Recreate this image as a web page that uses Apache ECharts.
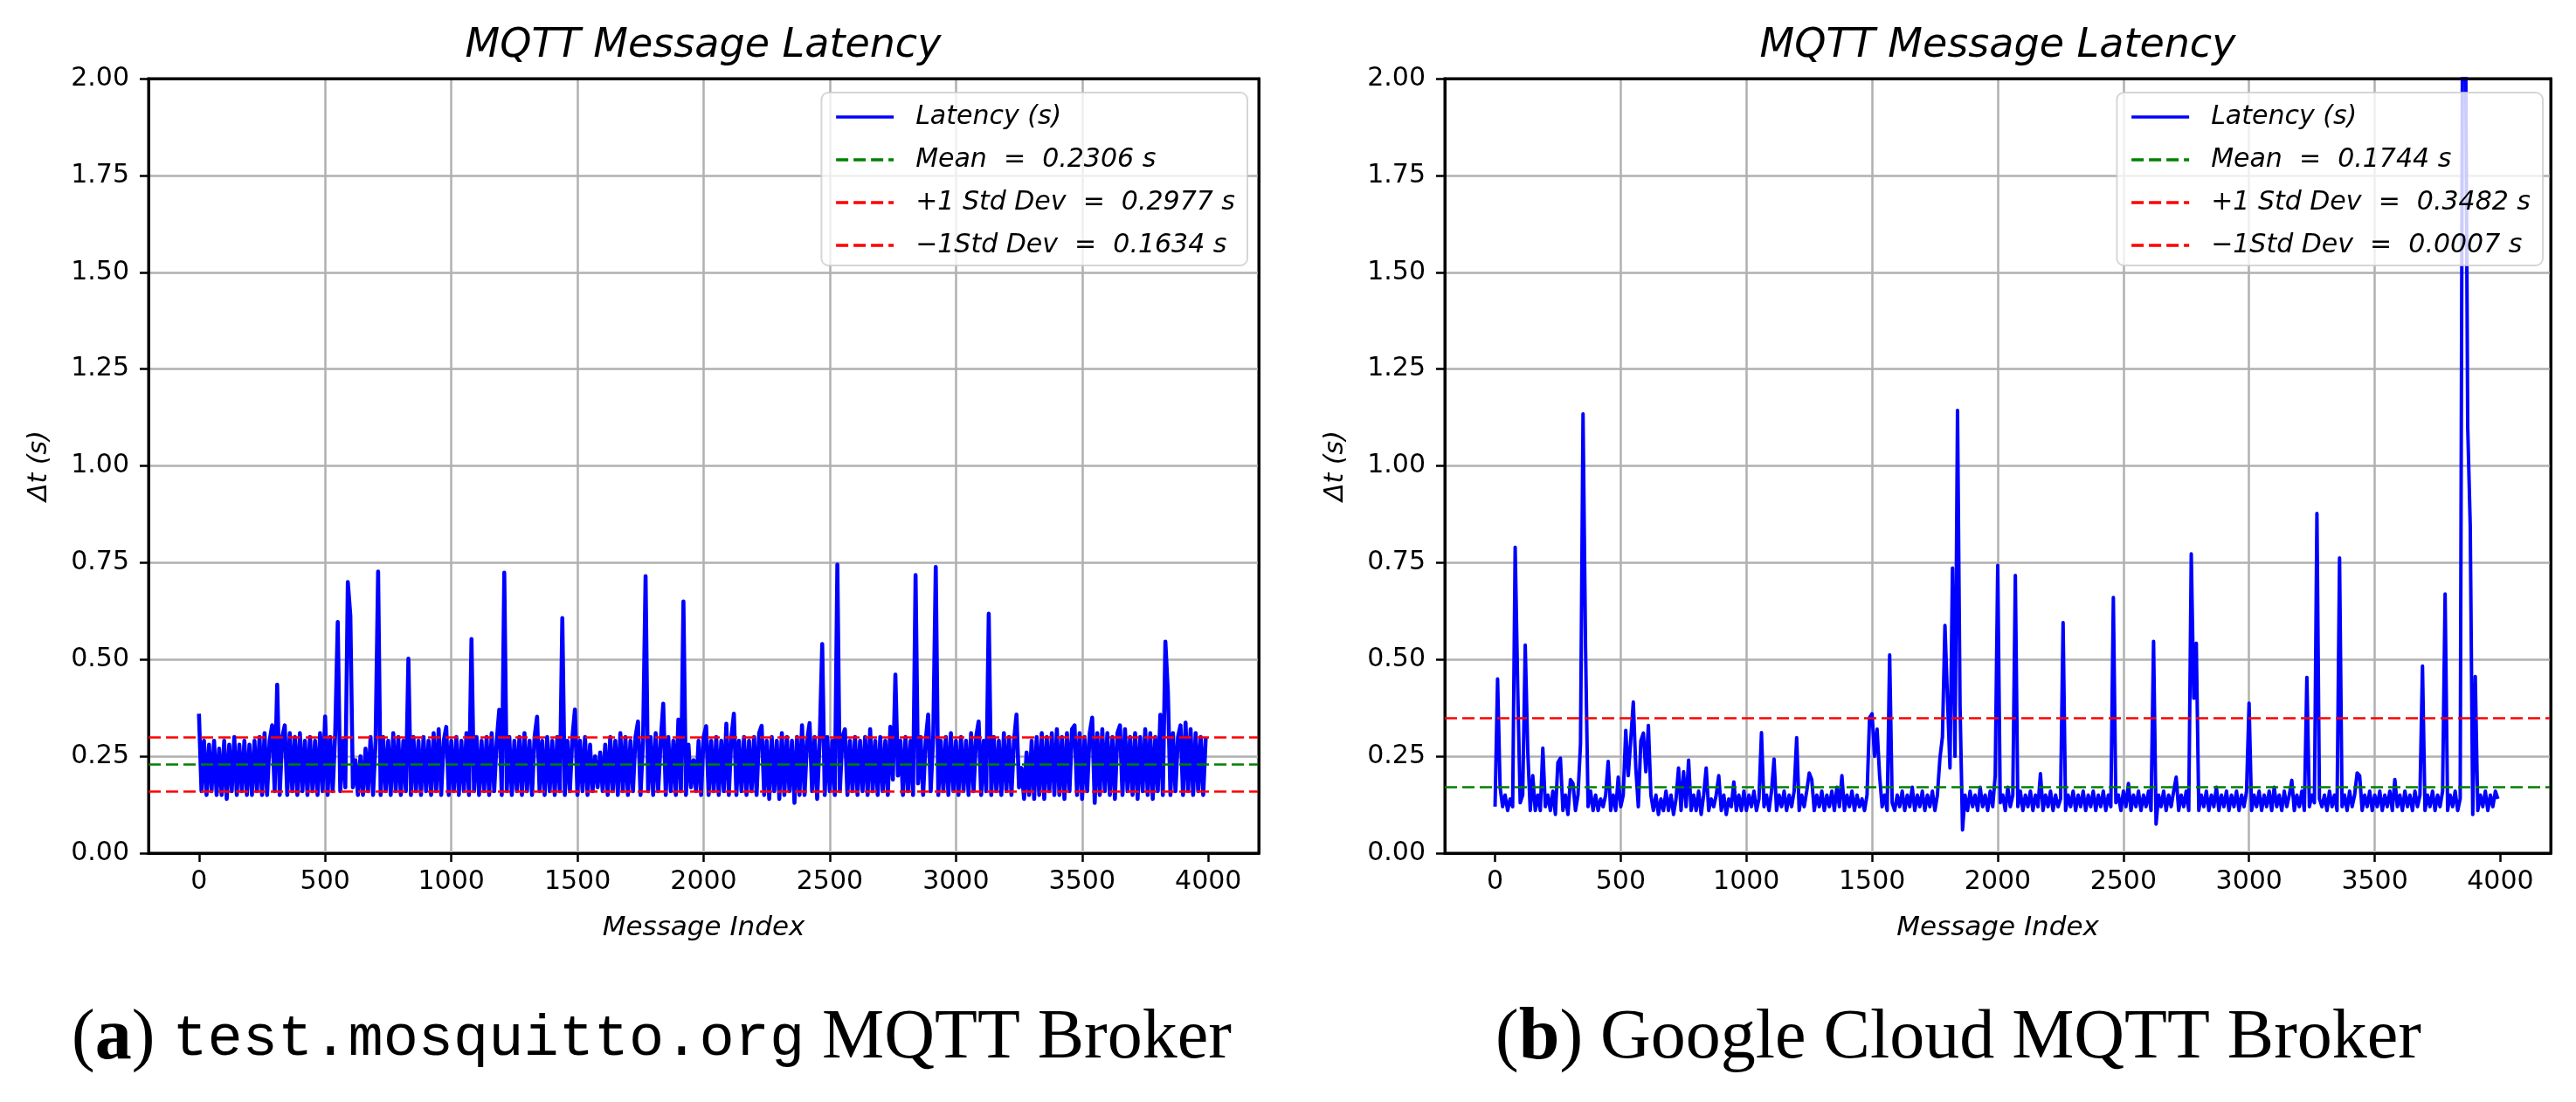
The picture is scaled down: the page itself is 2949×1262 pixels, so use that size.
<!DOCTYPE html>
<html>
<head>
<meta charset="utf-8">
<title>MQTT Message Latency</title>
<script src="https://cdn.jsdelivr.net/npm/echarts@6/dist/echarts.min.js"></script>
<style>
html,body{margin:0;padding:0;background:#fff;}
#main{width:2949px;height:1262px;}
</style>
</head>
<body>
<div id="main"></div>
<script>
// one value every STEP messages
var STEP = 10;
var xTicks = [0, 500, 1000, 1500, 2000, 2500, 3000, 3500, 4000];

// (a) test.mosquitto.org
var latencyMosquitto = [
  0.36,0.16,0.29,0.15,0.28,0.16,0.29,0.15,0.27,0.15,0.29,0.14,0.28,0.16,0.30,0.15,0.28,0.16,0.29,0.15,
  0.28,0.15,0.29,0.16,0.30,0.15,0.31,0.15,0.29,0.33,0.16,0.435,0.15,0.30,0.33,0.15,0.31,0.16,0.30,0.15,
  0.31,0.16,0.29,0.15,0.30,0.16,0.29,0.15,0.31,0.16,0.353,0.15,0.30,0.16,0.31,0.597,0.16,0.29,0.17,0.70,
  0.613,0.17,0.24,0.15,0.25,0.15,0.27,0.16,0.30,0.15,0.29,0.727,0.15,0.30,0.16,0.29,0.15,0.31,0.16,0.30,
  0.15,0.29,0.16,0.502,0.15,0.30,0.16,0.29,0.15,0.30,0.16,0.29,0.15,0.31,0.16,0.32,0.15,0.29,0.326,0.15,
  0.29,0.16,0.30,0.15,0.29,0.16,0.31,0.15,0.553,0.16,0.30,0.15,0.29,0.16,0.30,0.15,0.31,0.16,0.29,0.37,
  0.15,0.724,0.16,0.30,0.15,0.29,0.16,0.30,0.15,0.31,0.16,0.29,0.15,0.30,0.352,0.16,0.29,0.15,0.30,0.16,
  0.29,0.15,0.30,0.16,0.607,0.15,0.29,0.16,0.30,0.371,0.15,0.29,0.16,0.30,0.15,0.28,0.16,0.25,0.17,0.26,
  0.16,0.28,0.15,0.30,0.16,0.29,0.15,0.31,0.16,0.30,0.15,0.29,0.16,0.30,0.34,0.15,0.29,0.715,0.16,0.30,
  0.15,0.31,0.16,0.29,0.386,0.15,0.30,0.16,0.29,0.15,0.345,0.16,0.65,0.15,0.28,0.17,0.24,0.16,0.29,0.15,
  0.30,0.328,0.15,0.29,0.16,0.30,0.15,0.29,0.16,0.334,0.15,0.30,0.36,0.15,0.29,0.16,0.30,0.15,0.29,0.16,
  0.30,0.15,0.31,0.329,0.15,0.29,0.14,0.30,0.16,0.29,0.14,0.31,0.15,0.30,0.16,0.29,0.13,0.30,0.15,0.33,
  0.15,0.29,0.336,0.16,0.30,0.14,0.29,0.54,0.15,0.30,0.16,0.29,0.15,0.745,0.16,0.30,0.32,0.15,0.29,0.16,
  0.30,0.15,0.29,0.16,0.30,0.15,0.32,0.16,0.29,0.15,0.30,0.16,0.29,0.15,0.326,0.19,0.461,0.20,0.29,0.15,
  0.30,0.16,0.29,0.15,0.718,0.18,0.30,0.15,0.29,0.358,0.16,0.30,0.739,0.15,0.29,0.16,0.30,0.15,0.31,0.16,
  0.29,0.15,0.30,0.16,0.29,0.15,0.31,0.16,0.30,0.34,0.15,0.29,0.16,0.618,0.15,0.30,0.16,0.29,0.15,0.31,
  0.16,0.30,0.15,0.29,0.358,0.17,0.22,0.14,0.26,0.15,0.29,0.14,0.30,0.15,0.31,0.14,0.30,0.16,0.31,0.15,
  0.32,0.15,0.30,0.14,0.31,0.16,0.32,0.33,0.15,0.31,0.14,0.30,0.16,0.31,0.35,0.13,0.31,0.15,0.32,0.16,
  0.31,0.15,0.30,0.14,0.31,0.33,0.15,0.32,0.16,0.30,0.15,0.31,0.14,0.30,0.16,0.32,0.15,0.31,0.14,0.30,
  0.16,0.357,0.15,0.546,0.416,0.15,0.31,0.16,0.30,0.33,0.15,0.337,0.16,0.32,0.15,0.31,0.16,0.30,0.15,0.30
];
var statNamesMosquitto = ['Mean  =  0.2306 s', '+1 Std Dev  =  0.2977 s', '\u22121Std Dev  =  0.1634 s'];
var statValuesMosquitto = [0.2306, 0.2977, 0.1634];

// (b) Google Cloud
var latencyGoogle = [
  0.12,0.45,0.17,0.12,0.15,0.11,0.14,0.12,0.79,0.43,0.13,0.15,0.537,0.264,0.11,0.20,0.11,0.15,0.11,0.271,
  0.12,0.15,0.11,0.16,0.10,0.234,0.245,0.11,0.15,0.10,0.19,0.18,0.11,0.15,0.283,1.134,0.53,0.12,0.16,0.11,
  0.15,0.11,0.14,0.12,0.15,0.237,0.11,0.15,0.11,0.196,0.12,0.15,0.317,0.20,0.294,0.39,0.22,0.12,0.29,0.31,
  0.21,0.33,0.15,0.11,0.15,0.10,0.14,0.11,0.16,0.11,0.15,0.10,0.14,0.22,0.11,0.21,0.12,0.24,0.11,0.15,
  0.11,0.16,0.10,0.15,0.22,0.11,0.14,0.12,0.15,0.20,0.11,0.15,0.10,0.14,0.12,0.184,0.11,0.15,0.11,0.16,
  0.11,0.15,0.12,0.16,0.11,0.14,0.311,0.12,0.15,0.11,0.16,0.243,0.11,0.15,0.12,0.16,0.11,0.15,0.12,0.16,
  0.298,0.11,0.15,0.12,0.16,0.207,0.19,0.11,0.15,0.12,0.16,0.11,0.15,0.12,0.16,0.11,0.17,0.12,0.20,0.11,
  0.15,0.12,0.16,0.11,0.15,0.12,0.14,0.11,0.15,0.35,0.36,0.25,0.32,0.20,0.12,0.15,0.11,0.512,0.13,0.11,
  0.15,0.12,0.16,0.11,0.15,0.12,0.17,0.11,0.15,0.12,0.16,0.11,0.15,0.12,0.16,0.11,0.15,0.245,0.30,0.588,
  0.40,0.22,0.736,0.25,1.143,0.38,0.06,0.15,0.11,0.16,0.12,0.15,0.11,0.17,0.12,0.15,0.11,0.16,0.12,0.20,
  0.743,0.13,0.15,0.11,0.17,0.12,0.15,0.717,0.12,0.16,0.11,0.15,0.12,0.16,0.11,0.15,0.12,0.205,0.11,0.15,
  0.12,0.16,0.11,0.15,0.12,0.14,0.595,0.11,0.15,0.12,0.16,0.11,0.15,0.12,0.16,0.11,0.15,0.12,0.16,0.11,
  0.15,0.12,0.16,0.11,0.15,0.12,0.66,0.13,0.15,0.11,0.16,0.12,0.18,0.11,0.15,0.12,0.16,0.11,0.15,0.12,
  0.16,0.11,0.547,0.075,0.15,0.12,0.16,0.11,0.15,0.12,0.16,0.196,0.11,0.15,0.12,0.16,0.11,0.773,0.40,0.542,
  0.11,0.15,0.12,0.16,0.11,0.15,0.12,0.17,0.11,0.15,0.12,0.16,0.11,0.15,0.12,0.16,0.11,0.15,0.12,0.16,
  0.387,0.11,0.15,0.12,0.16,0.11,0.15,0.12,0.16,0.11,0.17,0.12,0.15,0.11,0.16,0.12,0.15,0.188,0.11,0.15,
  0.12,0.16,0.11,0.454,0.12,0.15,0.13,0.877,0.14,0.12,0.15,0.11,0.16,0.12,0.15,0.11,0.762,0.12,0.15,0.11,
  0.16,0.12,0.15,0.207,0.20,0.11,0.15,0.12,0.16,0.11,0.15,0.12,0.16,0.11,0.15,0.12,0.16,0.11,0.19,0.12,
  0.15,0.11,0.16,0.12,0.15,0.11,0.16,0.12,0.15,0.483,0.11,0.15,0.12,0.16,0.11,0.15,0.12,0.16,0.669,0.11,
  0.15,0.12,0.16,0.11,0.14,2.3,2.3,1.1,0.845,0.10,0.456,0.11,0.15,0.12,0.16,0.11,0.15,0.12,0.16,0.14
];
var statNamesGoogle = ['Mean  =  0.1744 s', '+1 Std Dev  =  0.3482 s', '\u22121Std Dev  =  0.0007 s'];
var statValuesGoogle = [0.1744, 0.3482, 0.0007];

var statColors = ['#008000', '#ff0000', '#ff0000'];
var LAT_NAME = 'Latency (s)';
var FONT = 'DejaVu Sans';

function toPoints(arr) {
  return arr.map(function (v, i) { return [i * STEP, v]; });
}

var chart = echarts.init(document.getElementById('main'));

var grids = [
  {left: 170, top: 90, width: 1271, height: 887},
  {left: 1654, top: 90, width: 1266, height: 887}
];
var SPINE = {color: '#000', width: 3};

function makeXAxis(idx) {
  return {
    type: 'value', gridIndex: idx, min: -200, max: 4200,
    name: 'Message Index', nameLocation: 'middle', nameGap: 70,
    nameTextStyle: {fontFamily: FONT, fontStyle: 'italic', fontSize: 31, color: '#000'},
    axisLine: {show: true, onZero: false, lineStyle: SPINE},
    axisTick: {show: true, length: 10, customValues: xTicks, lineStyle: {color: '#000', width: 2.5}},
    axisLabel: {customValues: xTicks, fontFamily: FONT, fontSize: 30, color: '#000', margin: 18,
      formatter: function (v) { return String(v); }},
    splitLine: {show: true, showMinLine: false, showMaxLine: false, lineStyle: {color: '#b0b0b0', width: 2.5}}
  };
}
function makeYAxis(idx) {
  return {
    type: 'value', gridIndex: idx, min: 0, max: 2, interval: 0.25,
    name: '\u0394t (s)', nameLocation: 'middle', nameGap: 110,
    nameTextStyle: {fontFamily: FONT, fontStyle: 'italic', fontSize: 30, color: '#000'},
    axisLine: {show: true, onZero: false, lineStyle: SPINE},
    axisTick: {show: true, length: 10, lineStyle: {color: '#000', width: 2.5}},
    axisLabel: {fontFamily: FONT, fontSize: 30, color: '#000', margin: 22,
      formatter: function (v) { return v.toFixed(2); }},
    splitLine: {show: true, showMinLine: false, showMaxLine: false, lineStyle: {color: '#b0b0b0', width: 2.5}}
  };
}
// frame drawn above the data, like matplotlib spines
function spineX(idx, pos) {
  return {
    type: 'value', gridIndex: idx, position: pos, min: -200, max: 4200, z: 10,
    axisLine: {show: true, onZero: false, lineStyle: SPINE},
    axisTick: {show: false}, axisLabel: {show: false}, splitLine: {show: false}
  };
}
function spineY(idx, pos) {
  return {
    type: 'value', gridIndex: idx, position: pos, min: 0, max: 2, z: 10,
    axisLine: {show: true, onZero: false, lineStyle: SPINE},
    axisTick: {show: false}, axisLabel: {show: false}, splitLine: {show: false}
  };
}

function makeSeries(idx, data, names, values) {
  var list = [{
    name: LAT_NAME, type: 'line', xAxisIndex: idx, yAxisIndex: idx,
    data: toPoints(data), symbol: 'none', showSymbol: false, clip: true,
    lineStyle: {color: '#0000ff', width: idx === 0 ? 4.6 : 4, join: 'round'},
    itemStyle: {color: '#0000ff'}, z: 2
  }];
  names.forEach(function (n, k) {
    list.push({
      name: n, type: 'line', xAxisIndex: idx, yAxisIndex: idx, data: [],
      symbol: 'none', z: 3,
      lineStyle: {color: statColors[k], width: 2.7, type: [14, 6]},
      itemStyle: {color: statColors[k]},
      markLine: {
        silent: true, symbol: 'none', label: {show: false},
        lineStyle: {color: statColors[k], width: 2.7, type: [14, 6]},
        data: [{yAxis: values[k]}]
      }
    });
  });
  return list;
}

function makeLegend(right, names) {
  return {
    orient: 'vertical', right: right, top: 106,
    data: [LAT_NAME].concat(names),
    itemWidth: 66, itemHeight: 20, itemGap: 19,
    padding: [13, 14, 8, 15],
    itemStyle: {opacity: 0},
    lineStyle: {width: 3.4},
    backgroundColor: 'rgba(255,255,255,0.8)',
    borderColor: 'rgba(204,204,204,0.8)', borderWidth: 2, borderRadius: 8,
    textStyle: {fontFamily: FONT, fontStyle: 'italic', fontSize: 30, color: '#000', padding: [0, 0, 0, 20]},
    selectedMode: false
  };
}

function titleText(x, txt) {
  return {
    type: 'text', x: x, y: 53, z: 10,
    style: {text: txt, fontFamily: FONT, fontStyle: 'italic', fontSize: 46, fill: '#000',
      align: 'center', verticalAlign: 'middle'}
  };
}
function captionText(x, tag, mono, rest) {
  var txt = '{p|(}{b|' + tag + '}{p|)} ' + (mono ? '{tt|' + mono + '} ' : '') + '{p|' + rest + '}';
  return {
    type: 'text', x: x, y: 1190, z: 10,
    style: {
      text: txt, fontFamily: 'Liberation Serif', fontSize: 80, fill: '#000',
      align: 'center', verticalAlign: 'middle',
      rich: {
        p: {fontFamily: 'Liberation Serif', fontSize: 80},
        b: {fontFamily: 'Liberation Serif', fontSize: 84, fontWeight: 'bold'},
        tt: {fontFamily: 'Liberation Mono', fontSize: 67}
      }
    }
  };
}

var option = {
  animation: false,
  backgroundColor: '#fff',
  grid: grids.map(function (g) {
    return Object.assign({show: true, borderColor: '#000', borderWidth: 3, backgroundColor: 'transparent'}, g);
  }),
  xAxis: [makeXAxis(0), makeXAxis(1), spineX(0, 'bottom'), spineX(0, 'top'), spineX(1, 'bottom'), spineX(1, 'top')],
  yAxis: [makeYAxis(0), makeYAxis(1), spineY(0, 'right'), spineY(1, 'right')],
  legend: [makeLegend(1521, statNamesMosquitto), makeLegend(38, statNamesGoogle)],
  series: makeSeries(0, latencyMosquitto, statNamesMosquitto, statValuesMosquitto)
    .concat(makeSeries(1, latencyGoogle, statNamesGoogle, statValuesGoogle)),
  graphic: [
    titleText(805, 'MQTT Message Latency'),
    titleText(2287, 'MQTT Message Latency'),
    captionText(746, 'a', 'test.mosquitto.org', 'MQTT Broker'),
    captionText(2242, 'b', null, 'Google Cloud MQTT Broker')
  ]
};

chart.setOption(option);
</script>
</body>
</html>
